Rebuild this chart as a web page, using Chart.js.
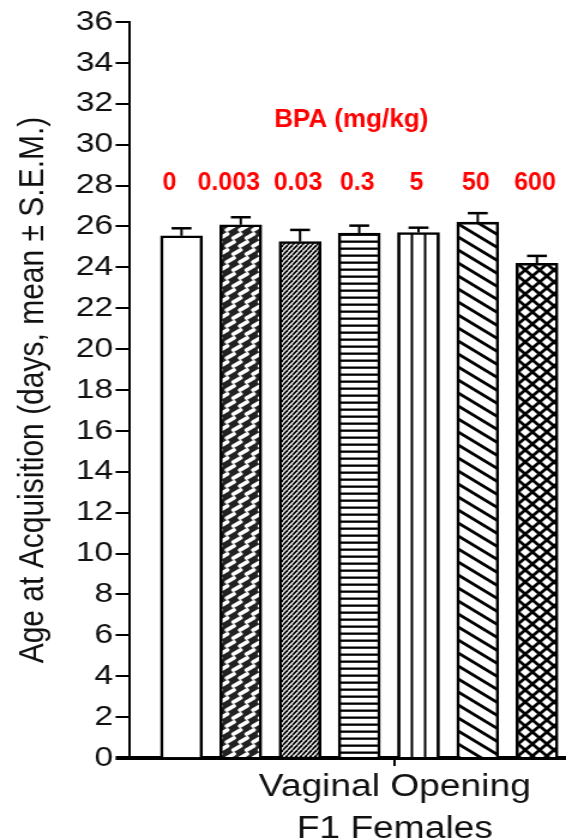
<!DOCTYPE html>
<html>
<head>
<meta charset="utf-8">
<script src="https://cdn.jsdelivr.net/npm/chart.js@4"></script>
<style>
  html, body { margin: 0; padding: 0; background: #fff; }
</style>
</head>
<body>
<!-- drawn at 472px wide and stretched to 566px, like the scanned figure -->
<canvas id="chart" width="472" height="839" style="width:566px;height:839px;display:block"></canvas>
<script>
const doses = ['0', '0.003', '0.03', '0.3', '5', '50', '600'];
const means = [25.54, 26.08, 25.26, 25.67, 25.70, 26.21, 24.20];
const sems = [0.37, 0.37, 0.57, 0.37, 0.24, 0.44, 0.36];
const groupLabel = ['Vaginal Opening', 'F1 Females'];
const groupTickAt = 4.6;
const doseTitle = 'BPA (mg/kg)';
const yTitle = 'Age at Acquisition (days, mean \u00B1 S.E.M.)';

const stretch = 566 / 472;
Chart.defaults.font.family = '"Liberation Sans", Arial, Helvetica, sans-serif';

function makePattern(w, h, draw, bg) {
    const c = document.createElement('canvas');
    c.width = w;
    c.height = h;
    const g = c.getContext('2d');
    g.fillStyle = bg || '#fff';
    g.fillRect(0, 0, w, h);
    g.strokeStyle = '#000';
    g.fillStyle = '#000';
    draw(g, w, h);
    return g.createPattern(c, 'repeat');
}

// one fill per dose group
const woven = makePattern(11, 16, (g, w, h) => {
    g.strokeStyle = '#fff';
    g.lineWidth = 3.8;
    g.lineCap = 'round';
    [[0, 0], [5.5, 8], [-5.5, 8]].forEach(([dx, dy]) => {
        g.beginPath();
        g.moveTo(2.2 + dx, 6 + dy);
        g.lineTo(8 + dx, 2 + dy);
        g.stroke();
    });
}, '#222');
const fineDiag = makePattern(4, 5, (g, w, h) => {
    g.lineWidth = 1.8;
    for (let k = -1; k <= 1; k++) {
        g.beginPath();
        g.moveTo(k * w, h);
        g.lineTo(k * w + w, 0);
        g.stroke();
    }
});
const horiz = makePattern(4, 7, (g, w, h) => {
    g.fillRect(0, 2.5, w, 2.3);
});
const vert = makePattern(11, 4, (g, w, h) => {
    g.fillRect(0, 0, 2, h);
});
const wideDiag = makePattern(18, 13, (g, w, h) => {
    g.lineWidth = 2.8;
    for (let m = -1; m <= 1; m++) {
        g.beginPath();
        g.moveTo(-w, -h + m * h);
        g.lineTo(2 * w, 2 * h + m * h);
        g.stroke();
    }
});
const cross = makePattern(12, 12, (g, w, h) => {
    g.lineWidth = 2.8;
    for (let m = -1; m <= 1; m++) {
        g.beginPath();
        g.moveTo(-w, -h + m * h);
        g.lineTo(2 * w, 2 * h + m * h);
        g.moveTo(-w, 2 * h + m * h);
        g.lineTo(2 * w, -h + m * h);
        g.stroke();
    }
});
const fills = ['#fff', woven, fineDiag, horiz, vert, wideDiag, cross];

const errorBars = {
    id: 'errorBars',
    beforeDatasetsDraw(chart) {
        const bar = chart.getDatasetMeta(0).data[4];
        vert.setTransform(new DOMMatrix().translate(bar.x - bar.width / 2, 0));
    },
    afterDatasetsDraw(chart) {
        const ctx = chart.ctx;
        const y = chart.scales.y;
        ctx.save();
        ctx.strokeStyle = '#000';
        chart.getDatasetMeta(0).data.forEach((bar, i) => {
            const top = y.getPixelForValue(means[i] + sems[i]);
            ctx.lineWidth = 2;
            ctx.beginPath();
            ctx.moveTo(bar.x, bar.y);
            ctx.lineTo(bar.x, top);
            ctx.stroke();
            ctx.lineWidth = 2.5;
            ctx.beginPath();
            ctx.moveTo(bar.x - 8.3, top);
            ctx.lineTo(bar.x + 8.3, top);
            ctx.stroke();
        });
        ctx.restore();
    }
};

// red labels were pasted on later, so they are not stretched
const doseLabels = {
    id: 'doseLabels',
    afterDraw(chart) {
        const ctx = chart.ctx;
        const bars = chart.getDatasetMeta(0).data;
        ctx.save();
        ctx.scale(1 / stretch, 1);
        ctx.fillStyle = '#ff0000';
        ctx.textAlign = 'center';
        ctx.textBaseline = 'middle';
        const mid = (bars[0].x + bars[bars.length - 1].x) / 2;
        ctx.font = 'bold 26px "Liberation Sans", Arial, sans-serif';
        ctx.fillText(doseTitle, mid * stretch - 8, 120);
        ctx.font = 'bold 25px "Liberation Sans", Arial, sans-serif';
        bars.forEach((bar, i) => {
            // the first two labels sit a little left of their bars in the figure
            const nudge = i < 2 ? -12 : -2;
            ctx.fillText(doses[i], bar.x * stretch + nudge, 183);
        });
        ctx.restore();
    }
};

new Chart(document.getElementById('chart'), {
    type: 'bar',
    data: {
        datasets: [{
            data: means.map((m, i) => ({ x: i + 1, y: m })),
            backgroundColor: fills,
            borderColor: '#000',
            borderWidth: 2.6,
            barThickness: 35
        }]
    },
    options: {
        responsive: false,
        animation: false,
        layout: { padding: { top: 22, left: 0, right: 0, bottom: 0 } },
        plugins: {
            legend: { display: false },
            tooltip: { enabled: false }
        },
        scales: {
            x: {
                type: 'linear',
                min: 0.13,
                max: 7.49,
                offset: false,
                afterBuildTicks: (axis) => { axis.ticks = [{ value: groupTickAt }]; },
                afterFit: (axis) => { axis.height = 81; },
                border: { color: '#000', width: 4 },
                grid: { drawOnChartArea: false, offset: false, color: '#000', lineWidth: 2, tickLength: 8 },
                ticks: {
                    callback: () => groupLabel,
                    color: '#111',
                    font: { size: 31, lineHeight: 1.37 },
                    padding: 0,
                    maxRotation: 0,
                    autoSkip: false
                }
            },
            y: {
                min: 0,
                max: 36,
                afterFit: (axis) => { axis.width = 108.4; },
                border: { color: '#000', width: 2 },
                grid: {
                    drawOnChartArea: false,
                    color: '#000',
                    tickLength: 12,
                    lineWidth: 2,
                    tickWidth: (ctx) => (ctx.tick && ctx.tick.value === 0 ? 4 : 2)
                },
                ticks: {
                    stepSize: 2,
                    color: '#111',
                    font: { size: 28, lineHeight: 1 },
                    padding: 2
                },
                title: {
                    display: true,
                    text: yTitle,
                    color: '#111',
                    font: { size: 30 },
                    padding: { top: 10, bottom: 0 }
                }
            }
        }
    },
    plugins: [errorBars, doseLabels]
});
</script>
</body>
</html>
